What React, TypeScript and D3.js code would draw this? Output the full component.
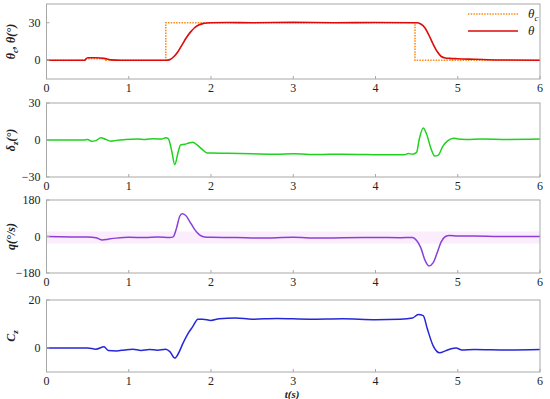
import * as d3 from 'd3'

// time axis
const xTicks = [0, 1, 2, 3, 4, 5, 6]

// theta_c (command), deg
const thetaCT = [0, 0.48, 0.48, 0.72, 0.72, 1.45, 1.45, 4.48, 4.48, 6]
const thetaCV = [0, 0, 1.2, 1.2, 0, 0, 30, 30, 0, 0]

// theta, deg
const thetaT = [0, 0.46, 0.5, 0.6, 0.7, 0.78, 0.9, 1.45, 1.5, 1.55, 1.6, 1.65, 1.7, 1.75, 1.8, 1.85, 1.9, 1.95, 2.0, 2.2, 2.5, 3.0, 3.5, 4.0, 4.5, 4.55, 4.6, 4.65, 4.7, 4.75, 4.8, 4.85, 4.9, 5.0, 5.2, 5.5, 6]
const thetaV = [0, 0, 2, 2, 1.5, 0.3, 0, 0, 0.5, 3, 7, 12.5, 18, 22.5, 26, 28.2, 29.3, 29.8, 30, 30.2, 30, 30.3, 30, 30.2, 30, 29, 26, 20, 13, 7, 3, 1.8, 1.5, 1.2, 0.8, 0.2, 0]

// delta_z, deg
const deltaT = [0, 0.45, 0.5, 0.55, 0.6, 0.66, 0.72, 0.78, 0.85, 0.95, 1.1, 1.2, 1.3, 1.4, 1.45, 1.48, 1.52, 1.56, 1.6, 1.63, 1.68, 1.73, 1.78, 1.83, 1.9, 1.95, 2.0, 2.2, 2.5, 2.8, 3.0, 3.3, 3.6, 3.9, 4.2, 4.35, 4.4, 4.45, 4.5, 4.53, 4.58, 4.62, 4.67, 4.72, 4.76, 4.82, 4.88, 4.95, 5.0, 5.1, 5.3, 5.6, 6]
const deltaV = [0, 0, 0.5, -1, -0.5, 1.8, 0.5, -1, -0.3, 0.3, 0.8, 0.5, 1, 0.8, 1.8, 1.2, -8, -20, -10, -4, -3.5, -2.5, -1.8, -4, -8, -10.5, -10.5, -10.8, -11.2, -11.5, -11.2, -11.8, -11.5, -11.8, -12, -12, -11, -11.5, -10, 0, 9.8, 5, -6, -13, -12.5, -5, -0.5, 1.5, 0.8, 0.5, 0.8, 0.5, 0.8]

// q, deg/s
const qT = [0, 0.3, 0.5, 0.6, 0.68, 0.75, 0.85, 1.0, 1.2, 1.35, 1.5, 1.54, 1.58, 1.62, 1.65, 1.69, 1.74, 1.8, 1.86, 1.92, 2.0, 2.3, 2.6, 3.0, 3.3, 3.6, 4.0, 4.3, 4.45, 4.5, 4.55, 4.6, 4.65, 4.7, 4.75, 4.8, 4.85, 4.9, 5.0, 5.2, 5.5, 6]
const qV = [0, -2, -3, -6, -17, -13, -8, -4, -5, -3, -5, -2, 40, 100, 112, 105, 75, 35, 8, -2, -4, -5, -8, -4, -8, -6, -5, -6, -5, -20, -55, -115, -145, -130, -80, -25, 0, 5, 2, 2, 0, 0]
const qBandLo = -35
const qBandHi = 25

// C_z
const czT = [0, 0.5, 0.6, 0.7, 0.75, 0.85, 0.95, 1.05, 1.15, 1.25, 1.35, 1.45, 1.5, 1.56, 1.6, 1.66, 1.72, 1.78, 1.84, 1.9, 2.0, 2.1, 2.3, 2.5, 2.8, 3.2, 3.6, 4.0, 4.3, 4.45, 4.52, 4.58, 4.63, 4.7, 4.78, 4.85, 4.92, 4.98, 5.05, 5.2, 5.6, 6]
const czV = [0, 0, -0.5, 0.5, -1, -1.2, -0.8, -0.5, -1, -0.6, -0.9, -0.5, -1.5, -4.2, -2.5, 2, 6, 9, 12, 12, 11.5, 12.2, 12.5, 12, 12.3, 12, 12.2, 11.8, 12, 12.5, 14, 13.5, 8, 1, -2, -1.2, -0.3, 0, -0.8, -0.6, -0.8, -0.6]

const W = 550
const H = 399
const left = 46.5
const right = 540
const font = "'Liberation Serif', 'Times New Roman', serif"

const x = d3.scaleLinear().domain([0, 6]).range([left, right])

const zip = (t: number[], v: number[]) => t.map((d, i) => [d, v[i]] as [number, number])

interface PanelProps {
  top: number
  bottom: number
  domain: [number, number]
  yTicks: number[]
  children: (y: d3.ScaleLinear<number, number>) => React.ReactNode
  label: React.ReactNode
}

const fmt = (v: number) => (v < 0 ? '\u2212' + Math.abs(v) : String(v))

const Panel = ({ top, bottom, domain, yTicks, children, label }: PanelProps) => {
  const y = d3.scaleLinear().domain(domain).range([bottom, top])
  return (
    <g>
      <defs>
        <clipPath id={`clip${top}`}>
          <rect x={left} y={top} width={right - left} height={bottom - top} />
        </clipPath>
      </defs>
      <g clipPath={`url(#clip${top})`}>{children(y)}</g>
      <rect x={left} y={top} width={right - left} height={bottom - top} fill="none" stroke="#a8a8a8" strokeWidth={1} />
      {xTicks.map(t => (
        <g key={t}>
          <line x1={x(t)} x2={x(t)} y1={bottom} y2={bottom - 3} stroke="#a8a8a8" />
          <text x={x(t)} y={bottom + 13} textAnchor="middle" fontSize={12} fill="#222">{t}</text>
        </g>
      ))}
      {yTicks.map(v => (
        <g key={v}>
          <line x1={left} x2={left + 3} y1={y(v)} y2={y(v)} stroke="#a8a8a8" />
          <text x={left - 6} y={y(v) + 4} textAnchor="end" fontSize={12} fill="#222">{fmt(v)}</text>
        </g>
      ))}
      <g transform={`translate(15,${(top + bottom) / 2}) rotate(-90)`}>
        <text textAnchor="middle" fontSize={12} fontStyle="italic" fontWeight="bold" fill="#222">{label}</text>
      </g>
    </g>
  )
}

const lineGen = (y: d3.ScaleLinear<number, number>, curve = true) => {
  const l = d3.line<[number, number]>().x(d => x(d[0])).y(d => y(d[1]))
  return curve ? l.curve(d3.curveMonotoneX) : l
}

export default function App() {
  return (
    <svg width={W} height={H} style={{ position: 'absolute', left: 0, top: 0, background: '#fff', fontFamily: font }}>
      <Panel top={4} bottom={79} domain={[-15, 45]} yTicks={[0, 30]}
        label={<>θ<tspan fontSize={9} dy={3}>c</tspan><tspan dy={-3}>, θ(°)</tspan></>}>
        {y => (
          <>
            <path d={lineGen(y, false)(zip(thetaCT, thetaCV)) ?? ''} fill="none" stroke="#ff8c1a" strokeWidth={1.6} strokeDasharray="1.5,1.2" />
            <path d={lineGen(y)(zip(thetaT, thetaV)) ?? ''} fill="none" stroke="#dd0a0a" strokeWidth={1.6} />
          </>
        )}
      </Panel>
      {/* legend */}
      <line x1={468} x2={518} y1={14} y2={14} stroke="#ff8c1a" strokeWidth={1.6} strokeDasharray="1.5,1.2" />
      <text x={528} y={18} fontSize={13} fontStyle="italic" fill="#222">θ<tspan fontSize={9} dy={3}>c</tspan></text>
      <line x1={468} x2={518} y1={31} y2={31} stroke="#dd0a0a" strokeWidth={1.6} />
      <text x={528} y={35} fontSize={13} fontStyle="italic" fill="#222">θ</text>

      <Panel top={103} bottom={177} domain={[-30, 30]} yTicks={[-30, 0, 30]}
        label={<>δ<tspan fontSize={9} dy={3}>z</tspan><tspan dy={-3}>(°)</tspan></>}>
        {y => <path d={lineGen(y)(zip(deltaT, deltaV)) ?? ''} fill="none" stroke="#1ed21e" strokeWidth={1.5} />}
      </Panel>

      <Panel top={200} bottom={273} domain={[-180, 180]} yTicks={[-180, 0, 180]} label={<>q(°/s)</>}>
        {y => (
          <>
            <rect x={x(0)} width={x(6) - x(0)} y={y(qBandHi)} height={y(qBandLo) - y(qBandHi)} fill="#fcedfc" />
            <path d={lineGen(y)(zip(qT, qV)) ?? ''} fill="none" stroke="#8a3fd6" strokeWidth={1.5} />
          </>
        )}
      </Panel>

      <Panel top={300} bottom={372} domain={[-10, 20]} yTicks={[0, 20]}
        label={<>C<tspan fontSize={9} dy={3}>z</tspan></>}>
        {y => <path d={lineGen(y)(zip(czT, czV)) ?? ''} fill="none" stroke="#2626d9" strokeWidth={1.5} />}
      </Panel>

      <text x={292} y={398} textAnchor="middle" fontSize={11} fontStyle="italic" fontWeight="bold" fill="#222">t(s)</text>
    </svg>
  )
}
